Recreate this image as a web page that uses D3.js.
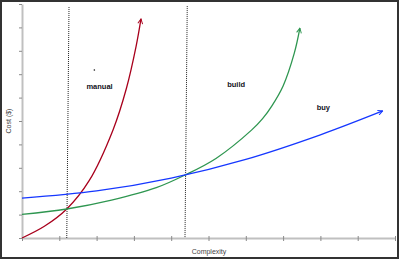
<!DOCTYPE html>
<html>
<head>
<meta charset="utf-8">
<script src="https://cdn.jsdelivr.net/npm/d3@7"></script>
<style>
  body { margin: 0; background: #fff; }
  svg { display: block; }
</style>
</head>
<body>
<svg id="chart" width="400" height="260"></svg>
<script>
// values, axes run 0..10 with 10 tick steps
let manualX = [0, 0.6, 1.2, 1.8, 2.44, 2.8, 3.06, 3.19];
let manualY = [0, 0.5, 1.24, 2.45, 4.62, 6.4, 8.2, 9.36];
let buildX = [0, 1.2, 2.4, 3.6, 4.37, 5.2, 6.16, 6.45, 6.7, 7.0, 7.3, 7.45];
let buildY = [1.01, 1.24, 1.62, 2.15, 2.69, 3.4, 4.62, 5.1, 5.65, 6.5, 7.9, 8.97];
let buyX = [0, 2, 4, 6, 8, 9.67];
let buyY = [1.70, 2.01, 2.56, 3.36, 4.41, 5.43];

let labels = ["manual", "build", "buy"];
let labelX = [2.08, 5.74, 8.08];
let labelY = [6.35, 6.47, 5.49];

// dotted dividers: [x at top, x at bottom]
let dividerTop = [1.26, 4.43];
let dividerBottom = [1.20, 4.37];
let dividerTopY = [9.87, 9.91];

let colors = ["#a8001c", "#2e9650", "#1537ff"];

let svg = d3.select("#chart");
let x = d3.scaleLinear().domain([0, 10]).range([22, 395]);
let y = d3.scaleLinear().domain([0, 10]).range([238, 4]);

// outer frame
svg.append("rect")
    .attr("x", 1).attr("y", 1)
    .attr("width", 397).attr("height", 257)
    .attr("fill", "none")
    .attr("stroke", "#333")
    .attr("stroke-width", 2);

// axes
let xAxis = svg.append("g")
    .attr("transform", "translate(0,238)")
    .call(d3.axisBottom(x).ticks(10).tickSize(3).tickSizeOuter(0).tickFormat(""));
let yAxis = svg.append("g")
    .attr("transform", "translate(22,0)")
    .call(d3.axisLeft(y).ticks(10).tickSize(3).tickSizeOuter(0).tickFormat(""));
[xAxis, yAxis].forEach(g => {
    g.select(".domain").attr("stroke", "#c0c0c0").attr("stroke-width", 2);
    g.selectAll(".tick line").attr("stroke", "#8a8a8a");
});
xAxis.selectAll(".tick line").attr("y1", -2);

// dotted dividers
for (let i = 0; i < dividerTop.length; i++) {
    svg.append("line")
        .attr("x1", x(dividerTop[i])).attr("y1", y(dividerTopY[i]))
        .attr("x2", x(dividerBottom[i])).attr("y2", y(0))
        .attr("stroke", "#222")
        .attr("stroke-width", 1)
        .attr("stroke-dasharray", "1,1");
}

// arrow markers
let defs = svg.append("defs");
colors.forEach((c, i) => {
    defs.append("marker")
        .attr("id", "arrow" + i)
        .attr("viewBox", "0 0 10 10")
        .attr("refX", 9).attr("refY", 5)
        .attr("markerWidth", 6).attr("markerHeight", 6)
        .attr("markerUnits", "userSpaceOnUse")
        .attr("orient", "auto")
        .append("path")
        .attr("d", "M1,1 L9,5 L1,9")
        .attr("fill", "none")
        .attr("stroke", c)
        .attr("stroke-width", 1.6);
});

let line = d3.line()
    .x(d => x(d[0]))
    .y(d => y(d[1]))
    .curve(d3.curveCatmullRom.alpha(0.5));

let series = [
    d3.zip(manualX, manualY),
    d3.zip(buildX, buildY),
    d3.zip(buyX, buyY)
];
series.forEach((pts, i) => {
    svg.append("path")
        .datum(pts)
        .attr("d", line)
        .attr("fill", "none")
        .attr("stroke", colors[i])
        .attr("stroke-width", 1.3)
        .attr("marker-end", "url(#arrow" + i + ")");
});

// region labels
svg.selectAll(".lbl")
    .data(labels)
    .enter()
    .append("text")
    .attr("class", "lbl")
    .attr("x", (d, i) => x(labelX[i]))
    .attr("y", (d, i) => y(labelY[i]))
    .attr("font-family", "Liberation Sans, Arial, sans-serif")
    .attr("font-weight", "bold")
    .attr("font-size", 7.5)
    .attr("fill", "#111122")
    .attr("text-anchor", "middle")
    .text(d => d);

// stray dot above "manual"
svg.append("circle")
    .attr("cx", x(1.94)).attr("cy", y(7.18))
    .attr("r", 0.8)
    .attr("fill", "#111");

// axis titles
svg.append("text")
    .attr("transform", "translate(11,121) rotate(-90)")
    .attr("text-anchor", "middle")
    .attr("font-family", "Liberation Sans, Arial, sans-serif")
    .attr("font-size", 7)
    .attr("fill", "#444")
    .text("Cost ($)");

svg.append("text")
    .attr("x", 209).attr("y", 254)
    .attr("text-anchor", "middle")
    .attr("font-family", "Liberation Sans, Arial, sans-serif")
    .attr("font-size", 7)
    .attr("fill", "#444")
    .text("Complexity");
</script>
</body>
</html>
